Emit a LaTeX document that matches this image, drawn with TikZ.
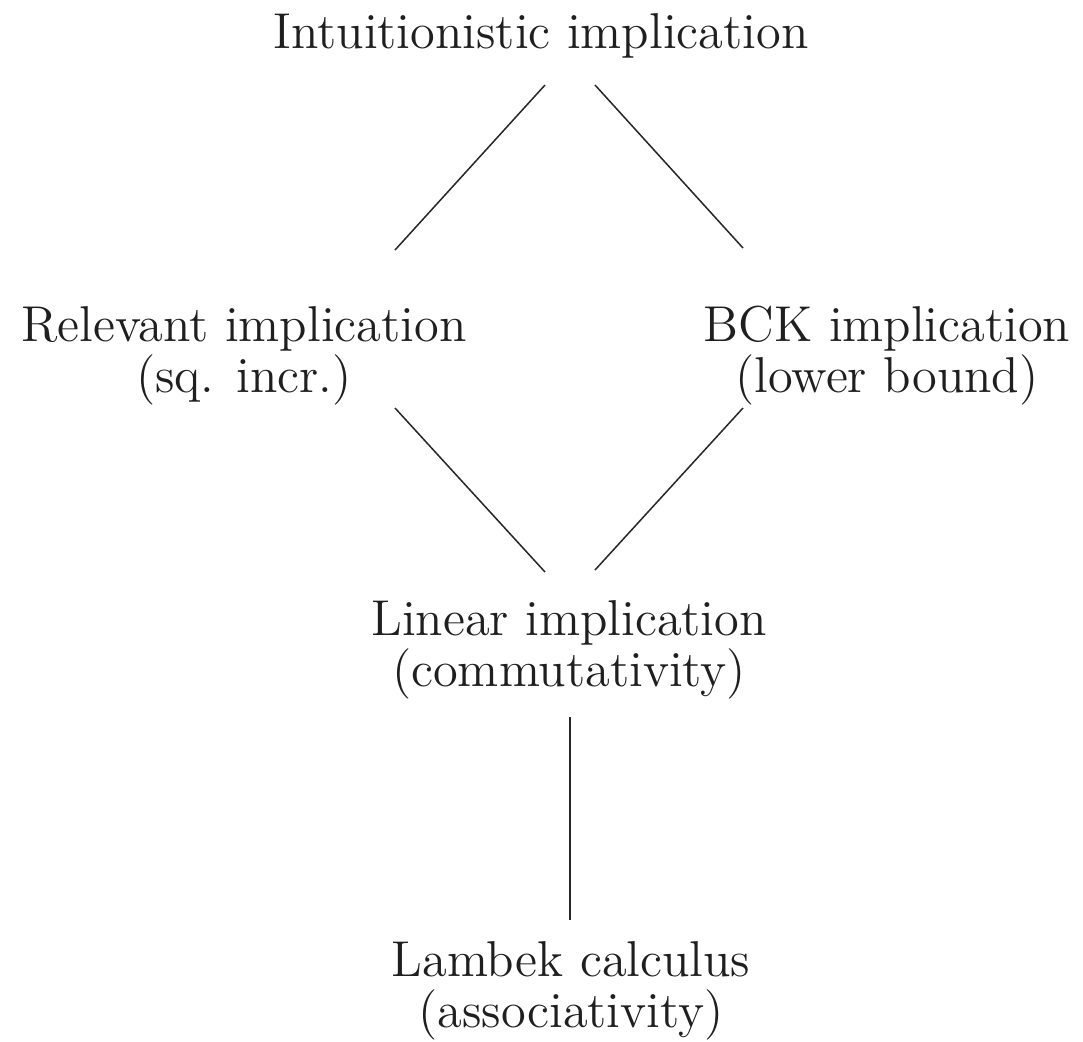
\documentclass[tikz,border=0pt]{standalone}
\usepackage{graphicx}
\usetikzlibrary{calc}
\newcommand\mylab[1]{\scalebox{2.1}{\fontsize{12}{10.7}\selectfont\begin{tabular}{@{}c@{}}#1\end{tabular}}}
\begin{document}
\begin{tikzpicture}[x=0.5pt,y=-0.5pt,
  lbl/.style={align=center,inner sep=0pt,text=black!88},
  edge/.style={line width=0.75pt,draw=black!85}]
\useasboundingbox[fill=white] (0,0) rectangle (1083,1041);
\node[lbl] (top) at (541,38) {\mylab{Intuitionistic implication}};
\node[lbl] (rel) at (244,356) {\mylab{Relevant implication\\(sq. incr.)}};
\node[lbl] (bck) at (887,356) {\mylab{BCK implication\\(lower bound)}};
\node[lbl] (lin) at (569,650) {\mylab{Linear implication\\(commutativity)}};
\node[lbl] (lam) at (571,991) {\mylab{Lambek calculus\\(associativity)}};
\draw[edge] ($(top)+(4,47)$) -- ($(rel)+(151,-106)$);
\draw[edge] ($(top)+(54,47)$) -- ($(bck)+(-144,-108)$);
\draw[edge] ($(rel)+(151,52)$) -- ($(lin)+(-24,-78)$);
\draw[edge] ($(bck)+(-144,52)$) -- ($(lin)+(26,-80)$);
\draw[edge] ($(lin)+(1,67)$) -- ($(lam)+(-1,-71)$);
\end{tikzpicture}
\end{document}
